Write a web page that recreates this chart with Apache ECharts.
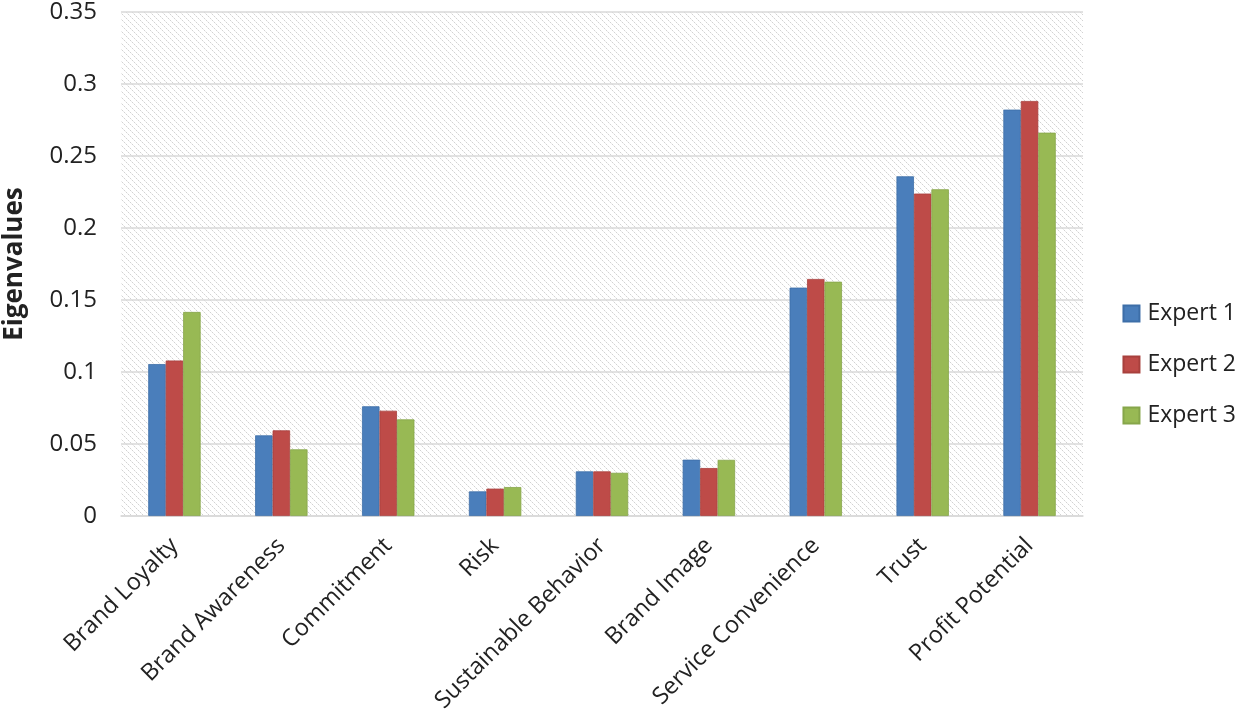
<!DOCTYPE html>
<html><head><meta charset="utf-8">
<script src="https://cdn.jsdelivr.net/npm/echarts@6/dist/echarts.min.js"></script>
<style>html,body{margin:0;padding:0;background:#fff}#c{width:1245px;height:716px}</style>
</head><body><div id="c"></div>
<script>
const categories = ['Brand Loyalty','Brand Awareness','Commitment','Risk','Sustainable Behavior','Brand Image','Service Convenience','Trust','Profit Potential'];
const expert1 = [0.1055, 0.056, 0.0762, 0.0171, 0.031, 0.0391, 0.1586, 0.2359, 0.2822];
const expert2 = [0.108, 0.0595, 0.0731, 0.019, 0.031, 0.0333, 0.1646, 0.2239, 0.2882];
const expert3 = [0.1417, 0.0463, 0.0671, 0.0201, 0.030, 0.039, 0.1627, 0.2269, 0.2662];
const yTicks = ['0','0.05','0.1','0.15','0.2','0.25','0.3','0.35'];

const pc = document.createElement('canvas');
pc.width = 6; pc.height = 6;
const g = pc.getContext('2d');
g.fillStyle = '#ffffff'; g.fillRect(0,0,6,6);
for (let i = 0; i < 6; i++) { g.fillStyle = (i % 2 === 0) ? '#d2d2d2' : '#ececec'; g.fillRect(i, i, 1, 1); }

const font = '"Open Sans", "Liberation Sans", sans-serif';
const chart = echarts.init(document.getElementById('c'), null, {renderer:'canvas'});
chart.setOption({
  animation:false,
  textStyle:{fontFamily:font},
  grid:{left:121, right:162, top:12, bottom:200, containLabel:false, outerBoundsMode:'none', show:true, backgroundColor:{image:pc, repeat:'repeat'}, borderWidth:0},
  legend:{orient:'vertical', right:4, top:297, itemWidth:16, itemHeight:16, itemGap:28, icon:'rect',
    textStyle:{fontSize:23, color:'#222', fontFamily:font, padding:[0,0,0,3]}, data:['Expert 1','Expert 2','Expert 3']},
  xAxis:{type:'category', data:categories,
    axisLine:{lineStyle:{color:'#d9d9d9', width:1.5}}, axisTick:{show:false},
    axisLabel:{rotate:45, fontSize:23.5, color:'#222', margin:26, interval:0, fontFamily:font}},
  yAxis:{type:'value', min:0, max:0.35, interval:0.05,
    name:'Eigenvalues', nameLocation:'middle', nameGap:93, nameRotate:90,
    nameTextStyle:{fontSize:26, fontWeight:'bold', color:'#222', fontFamily:font},
    axisLine:{show:false}, axisTick:{show:false},
    splitLine:{lineStyle:{color:'#d9d9d9', width:1.5}},
    axisLabel:{fontSize:24, color:'#222', margin:24, fontFamily:font,
      formatter:(v)=>yTicks[Math.round(v/0.05)]}},
  series:[
    {name:'Expert 1', type:'bar', data:expert1, barGap:'0%', barCategoryGap:'51%', itemStyle:{color:'#4a7ebb', borderColor:'#3d6ea8', borderWidth:0.8}},
    {name:'Expert 2', type:'bar', data:expert2, itemStyle:{color:'#be4b48', borderColor:'#a8403d', borderWidth:0.8}},
    {name:'Expert 3', type:'bar', data:expert3, itemStyle:{color:'#98b954', borderColor:'#86a64a', borderWidth:0.8}}
  ]
});
</script></body></html>
